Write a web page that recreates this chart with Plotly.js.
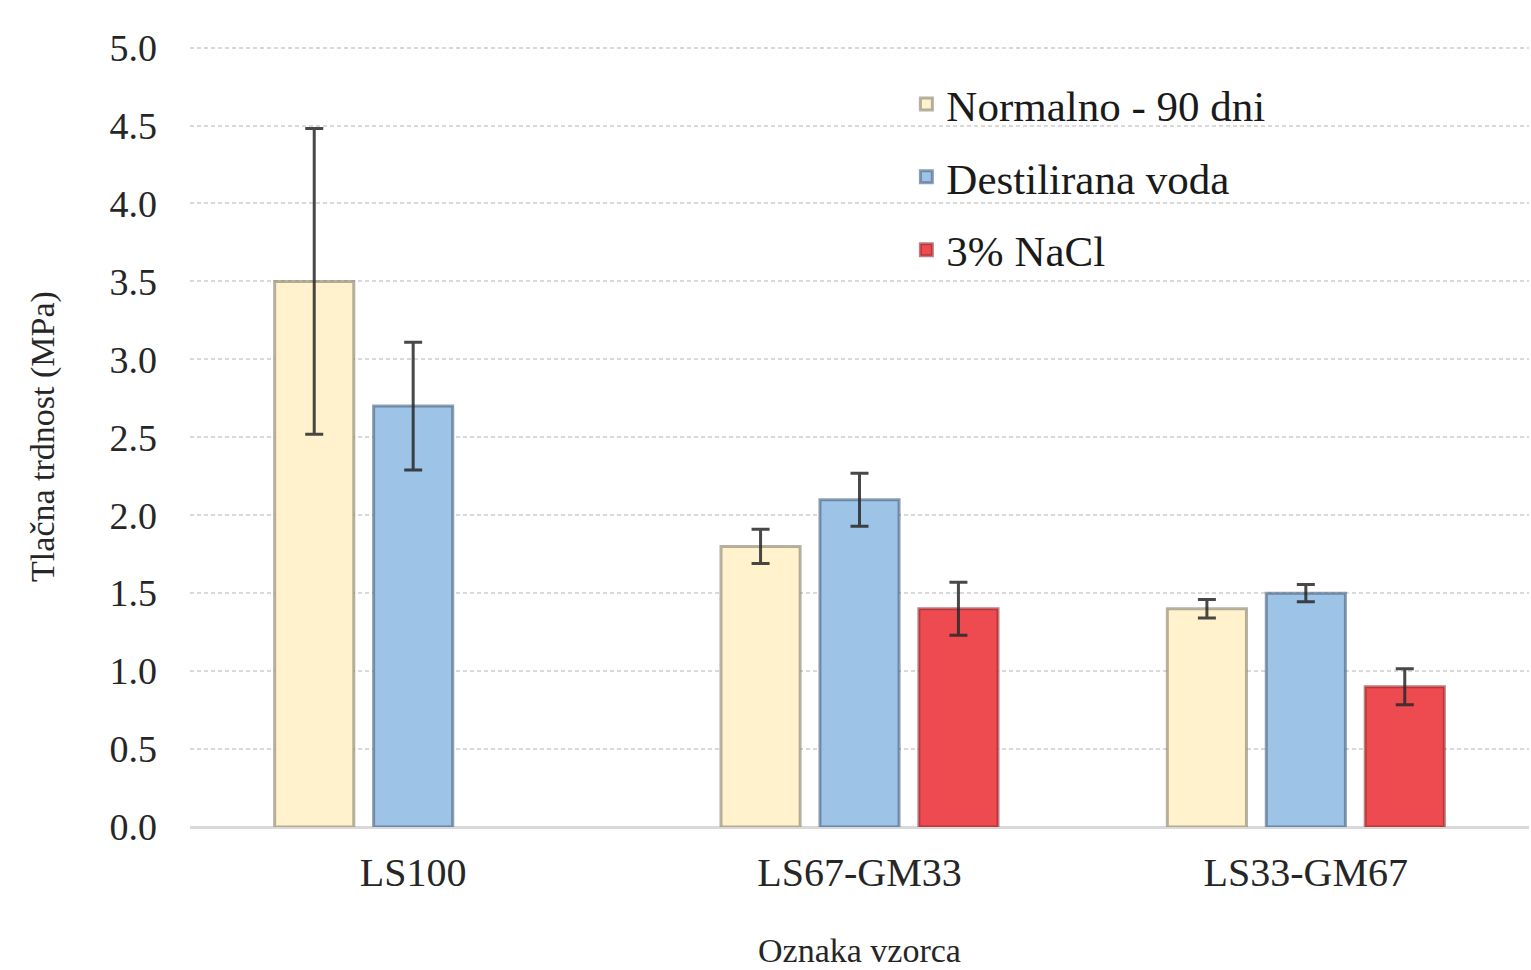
<!DOCTYPE html>
<html>
<head>
<meta charset="utf-8">
<script src="https://cdn.plot.ly/plotly-3.0.1.min.js"></script>
<style>html,body{margin:0;padding:0;background:#fff;}#chart{width:1531px;height:970px;}</style>
</head>
<body>
<div id="chart"></div>
<script>
const categories = ["LS100", "LS67-GM33", "LS33-GM67"];
const seriesNames = ["Normalno - 90 dni", "Destilirana voda", "3% NaCl"];
const normalno = [3.5, 1.8, 1.4];
const normalnoErr = [0.98, 0.11, 0.06];
const destilirana = [2.7, 2.1, 1.5];
const destiliranaErr = [0.41, 0.17, 0.055];
const nacl = [null, 1.4, 0.9];
const naclErr = [null, 0.17, 0.115];
const yTicks = [0, 0.5, 1, 1.5, 2, 2.5, 3, 3.5, 4, 4.5, 5];
const yTickLabels = ["0.0","0.5","1.0","1.5","2.0","2.5","3.0","3.5","4.0","4.5","5.0"];

const fills = ["#FFF2CC", "#9DC3E6", "#EE4B51"];
const lines = ["rgba(120,115,95,0.55)", "rgba(70,95,125,0.6)", "rgba(150,40,45,0.6)"];
const vals = [normalno, destilirana, nacl];
const errs = [normalnoErr, destiliranaErr, naclErr];

const traces = vals.map((v, i) => ({
  type: "bar",
  name: seriesNames[i],
  x: categories,
  y: v,
  legendgroup: "g" + i,
  marker: {color: fills[i], line: {color: lines[i], width: 3}},
  error_y: {type: "data", array: errs[i], visible: true, color: "rgba(40,40,40,0.85)", thickness: 3, width: 9}
}));

const font = "Liberation Serif";
const layout = {
  width: 1531, height: 970,
  margin: {l: 190, r: 2, t: 46, b: 143},
  paper_bgcolor: "#fff", plot_bgcolor: "#fff",
  barmode: "group",
  bargap: 0.335,
  bargroupgap: 0.2,
  font: {family: font, color: "#262626", size: 43},
  showlegend: true,
  legend: {
    x: 0.535, y: 0.97, xanchor: "left", yanchor: "top",
    font: {size: 43, color: "#1a1a1a"},
    tracegroupgap: 14,
    bgcolor: "rgba(0,0,0,0)",
    itemwidth: 30
  },
  xaxis: {
    type: "category",
    tickfont: {family: font, size: 40, color: "#262626"},
    ticks: "", showgrid: false, showline: false,
    ticklabelstandoff: 18,
    title: {text: "Oznaka vzorca", font: {family: font, size: 34, color: "#262626"}, standoff: 44}
  },
  yaxis: {
    range: [0, 5.01],
    tickvals: yTicks,
    ticktext: yTickLabels,
    tickfont: {family: font, size: 38, color: "#262626"},
    ticks: "", showline: false,
    ticklabelstandoff: 32,
    showgrid: true, gridcolor: "#D9D9D9", gridwidth: 2, griddash: "4px,3px",
    zeroline: true, zerolinecolor: "#D9D9D9", zerolinewidth: 3,
    title: {text: "Tlačna trdnost (MPa)", font: {family: font, size: 34, color: "#262626"}, standoff: 44}
  }
};

Plotly.newPlot("chart", traces, layout, {displayModeBar: false, staticPlot: true});
</script>
</body>
</html>
